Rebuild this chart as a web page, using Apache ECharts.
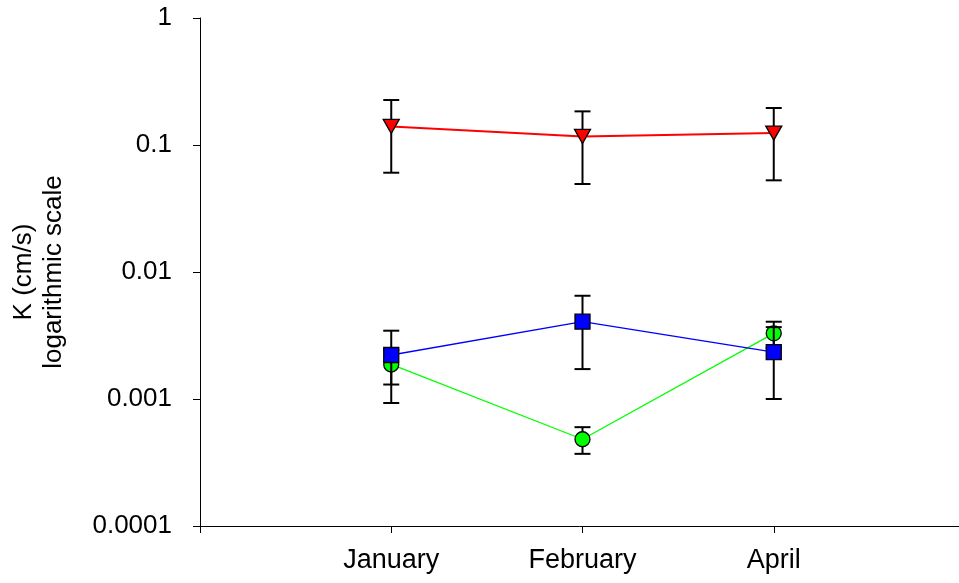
<!DOCTYPE html>
<html><head><meta charset="utf-8">
<script src="https://cdn.jsdelivr.net/npm/echarts@6/dist/echarts.min.js"></script>
<style>html,body{margin:0;padding:0;background:#fff}#c{width:959px;height:583px}</style>
</head><body><div id="c"></div>
<script>
const categories = ['January', 'February', 'April'];
const xPositions = [1, 2, 3];
const yTickLabels = ['0.0001', '0.001', '0.01', '0.1', '1'];
const yAxisTitle = 'K (cm/s)\nlogarithmic scale';

const redMean  = [0.140, 0.1167, 0.1242];
const redLow   = [0.0605, 0.0493, 0.0527];
const redHigh  = [0.226, 0.184, 0.1955];

const blueMean = [0.00222, 0.00406, 0.00234];
const blueLow  = [0.00093, 0.00172, 0.00100];
const blueHigh = [0.00345, 0.0065, 0.00368];

const greenMean = [0.00187, 0.000482, 0.00329];
const greenLow  = [0.0013, 0.00037, 0.00252];
const greenHigh = [0.00244, 0.0006, 0.00406];

const FONT = "'Liberation Sans', Arial, sans-serif";

function pts(vals) { return xPositions.map((x, i) => [x, vals[i]]); }
function errs(lo, hi) { return xPositions.map((x, i) => [x, lo[i], hi[i]]); }

function errRender(params, api) {
  const x = api.value(0), lo = api.value(1), hi = api.value(2);
  const pLo = api.coord([x, lo]), pHi = api.coord([x, hi]);
  const w = 8;
  const style = { stroke: '#000', lineWidth: 2 };
  return { type: 'group', children: [
    { type: 'line', shape: { x1: pLo[0], y1: pLo[1], x2: pHi[0], y2: pHi[1] }, style: style },
    { type: 'line', shape: { x1: pLo[0] - w, y1: pLo[1], x2: pLo[0] + w, y2: pLo[1] }, style: style },
    { type: 'line', shape: { x1: pHi[0] - w, y1: pHi[1], x2: pHi[0] + w, y2: pHi[1] }, style: style }
  ]};
}

function errSeries(lo, hi, z) {
  return { type: 'custom', renderItem: errRender, data: errs(lo, hi), z: z,
    encode: { x: 0, y: [1, 2] }, silent: true };
}

const chart = echarts.init(document.getElementById('c'), null, { renderer: 'canvas' });
chart.setOption({
  animation: false,
  backgroundColor: '#fff',
  grid: { left: 200, top: 18, bottom: 57, right: -6, containLabel: false, outerBoundsMode: 'none' },
  xAxis: {
    type: 'value', min: 0, max: 4, interval: 1,
    axisLine: { lineStyle: { color: '#000', width: 1 } },
    axisTick: { show: true, length: 7, lineStyle: { color: '#000' } },
    splitLine: { show: false },
    axisLabel: { color: '#000', fontFamily: FONT, fontSize: 27, margin: 21,
      formatter: v => (v >= 1 && v <= categories.length) ? categories[v - 1] : '' }
  },
  yAxis: {
    type: 'log', logBase: 10, min: 0.0001, max: 1, splitNumber: 4,
    name: yAxisTitle, nameLocation: 'middle', nameRotate: 90, nameGap: 131,
    nameTextStyle: { color: '#000', fontFamily: FONT, fontSize: 26, lineHeight: 30, align: 'center' },
    axisLine: { show: true, lineStyle: { color: '#000', width: 1 } },
    axisTick: { show: true, length: 7, lineStyle: { color: '#000' } },
    minorTick: { show: false },
    splitLine: { show: false },
    axisLabel: { color: '#000', fontFamily: FONT, fontSize: 26, margin: 28,
      formatter: v => yTickLabels[Math.round(Math.log10(v)) + 4] }
  },
  series: [
    errSeries(greenLow, greenHigh, 1),
    { type: 'line', data: pts(greenMean), z: 2, symbol: 'circle', symbolSize: 15,
      lineStyle: { color: '#00ff00', width: 1.3 },
      itemStyle: { color: '#00ff00', borderColor: '#000', borderWidth: 1.3 } },
    errSeries(blueLow, blueHigh, 3),
    { type: 'line', data: pts(blueMean), z: 4, symbol: 'rect', symbolSize: 15,
      lineStyle: { color: '#0000ff', width: 1.3 },
      itemStyle: { color: '#0000ff', borderColor: '#000', borderWidth: 1.3 } },
    errSeries(redLow, redHigh, 5),
    { type: 'line', data: pts(redMean), z: 6, symbol: 'triangle', symbolRotate: 180, symbolSize: [16, 14],
      lineStyle: { color: '#ff0000', width: 2 },
      itemStyle: { color: '#ff0000', borderColor: '#000', borderWidth: 1.3 } }
  ]
});
</script></body></html>
